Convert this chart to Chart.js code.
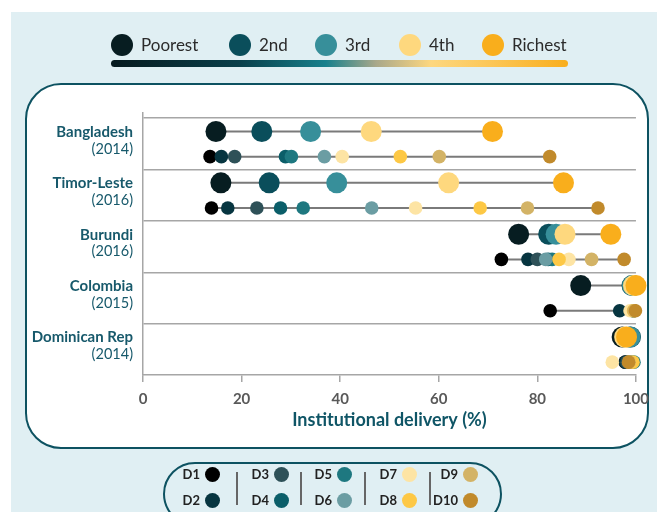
<!DOCTYPE html>
<html>
<head>
<meta charset="utf-8">
<script src="https://cdn.jsdelivr.net/npm/chart.js@4.4.1/dist/chart.umd.min.js"></script>
<style>
  html, body { margin: 0; padding: 0; background: #fff; }
  #wrap { position: relative; width: 657px; height: 512px; overflow: hidden; font-family: Lato, 'Open Sans', sans-serif; }
  #bg { position: absolute; left: 11px; top: 12px; right: 0; bottom: 0; background: #e0eff3; }
  #panel { position: absolute; left: 25px; top: 83px; width: 624px; height: 366px; box-sizing: border-box;
           background: #fff; border: 2.5px solid #0d5261; border-radius: 36px; }
  #chart { position: absolute; left: 0; top: 0; }
  .dot { position: absolute; border-radius: 50%; }
  .qtext { position: absolute; font-size: 17px; color: #2b2b2b; line-height: 20px; }
  #gradbar { position: absolute; left: 111px; top: 60px; width: 457px; height: 7px; border-radius: 4px;
             background: linear-gradient(to right, #061a1e 0%, #0a3f4a 28%, #17808c 47%, #a9a88a 58%, #fdd77f 70%, #fcc85a 82%, #f9ae1d 100%); }
  #pill { position: absolute; left: 163px; top: 462px; width: 339px; height: 64px; box-sizing: border-box;
          border: 2.5px solid #0d5261; border-radius: 32px; }
  .dtext { position: absolute; font-size: 13px; font-weight: bold; color: #222; line-height: 16px; text-align: right; width: 30px; }
  .sep { position: absolute; width: 1.5px; background: #666; }
</style>
</head>
<body>
<div id="wrap">
  <div id="bg"></div>
  <div id="panel"></div>
  <div id="gradbar"></div>
  <div id="pill"></div>
  <canvas id="chart" width="657" height="512"></canvas>
</div>
<script>
const countries = ['Bangladesh', 'Timor-Leste', 'Burundi', 'Colombia', 'Dominican Rep'];
const surveyYears = ['(2014)', '(2016)', '(2016)', '(2015)', '(2014)'];

const quintileNames = ['Poorest', '2nd', '3rd', '4th', 'Richest'];
const quintileColors = ['#071d21', '#0a4e5b', '#378f9a', '#fed87e', '#f9ae1c'];
// one row per country, one column per quintile
const quintileValues = [
    [14.8, 24.1, 34.0, 46.3, 70.9],
    [15.8, 25.6, 39.3, 62.0, 85.3],
    [76.2, 82.3, 83.8, 85.6, 94.9],
    [88.8, 99.2, 99.3, 99.5, 100],
    [97.2, 98.9, 98.8, 97.7, 98.1]
];

const decileNames = ['D1', 'D2', 'D3', 'D4', 'D5', 'D6', 'D7', 'D8', 'D9', 'D10'];
const decileColors = ['#000000', '#073540', '#2e5158', '#0b5e69', '#1e7880', '#6b9da3', '#fde4a4', '#fdc845', '#d3b366', '#c18a2b'];
// one row per country, one column per decile
const decileValues = [
    [13.6, 15.9, 18.6, 28.9, 30.1, 36.8, 40.4, 52.2, 60.1, 82.5],
    [13.9, 17.2, 23.1, 27.9, 32.5, 46.4, 55.3, 68.4, 78.0, 92.3],
    [72.7, 78.1, 80.0, 82.2, 83.0, 81.7, 86.4, 84.4, 91.0, 97.6],
    [82.6, 96.7, 99.4, 99.5, 99.6, 99.4, 98.8, 99.5, 99.6, 99.9],
    [97.8, 97.9, 98.2, 99.0, 99.6, 98.8, 95.2, 99.4, 98.6, 98.5]
];

const xTicks = [0, 20, 40, 60, 80, 100];

// y offsets of the two rows inside each country band
const quintileRow = 0.26;
const decileRow = 0.75;

const wrap = document.getElementById('wrap');

// top legend (quintiles)
const qDotX = [122, 240, 326, 410, 493];
quintileNames.forEach((name, k) => {
    const dot = document.createElement('div');
    dot.className = 'dot';
    dot.style.cssText = `left:${qDotX[k] - 11}px;top:34px;width:22px;height:22px;background:${quintileColors[k]}`;
    wrap.appendChild(dot);
    const t = document.createElement('div');
    t.className = 'qtext';
    t.textContent = name;
    t.style.left = (qDotX[k] + 19) + 'px';
    t.style.top = '35px';
    wrap.appendChild(t);
});

// bottom legend (deciles)
const dColX = [212, 281, 344, 409, 470];
const dRowY = [474, 500];
decileNames.forEach((name, k) => {
    const cx = dColX[Math.floor(k / 2)], cy = dRowY[k % 2];
    const dot = document.createElement('div');
    dot.className = 'dot';
    dot.style.cssText = `left:${cx - 7.5}px;top:${cy - 7.5}px;width:15px;height:15px;background:${decileColors[k]}`;
    wrap.appendChild(dot);
    const t = document.createElement('div');
    t.className = 'dtext';
    t.textContent = name;
    t.style.left = (cx - 42) + 'px';
    t.style.top = (cy - 8) + 'px';
    wrap.appendChild(t);
});
[236, 300, 364, 429].forEach(x => {
    const s = document.createElement('div');
    s.className = 'sep';
    s.style.cssText = `left:${x}px;top:472px;height:33px`;
    wrap.appendChild(s);
});

// datasets: connector lines first, then dots
const datasets = [];
countries.forEach((c, i) => {
    [[quintileValues[i], quintileRow], [decileValues[i], decileRow]].forEach(([vals, off]) => {
        datasets.push({
            data: [{ x: Math.min(...vals), y: i + off }, { x: Math.max(...vals), y: i + off }],
            showLine: true,
            borderColor: '#7a7a7a',
            borderWidth: 2,
            pointRadius: 0,
            order: 1000,
            clip: false
        });
    });
});
quintileNames.forEach((name, k) => {
    datasets.push({
        label: name,
        data: countries.map((c, i) => ({ x: quintileValues[i][k], y: i + quintileRow })),
        backgroundColor: quintileColors[k],
        borderWidth: 0,
        pointRadius: 10.5,
        order: 500 - k,
        clip: false
    });
});
decileNames.forEach((name, k) => {
    datasets.push({
        label: name,
        data: countries.map((c, i) => ({ x: decileValues[i][k], y: i + decileRow })),
        backgroundColor: decileColors[k],
        borderWidth: 0,
        pointRadius: 6.8,
        order: 400 - k,
        clip: false
    });
});

const rowLabels = {
    id: 'rowLabels',
    afterDraw(chart) {
        const { ctx, chartArea, scales: { y } } = chart;
        ctx.save();
        ctx.textAlign = 'right';
        ctx.textBaseline = 'middle';
        ctx.fillStyle = '#17596b';
        countries.forEach((name, i) => {
            ctx.font = 'bold 15px Lato';
            ctx.fillText(name, chartArea.left - 10, y.getPixelForValue(i + 0.27));
            ctx.font = '14.5px Lato';
            ctx.fillText(surveyYears[i], chartArea.left - 10, y.getPixelForValue(i + 0.6));
        });
        ctx.textAlign = 'center';
        ctx.font = 'bold 18px Lato';
        ctx.fillStyle = '#0f5566';
        ctx.fillText('Institutional delivery (%)', (chartArea.left + chartArea.right) / 2, chartArea.bottom + 45);
        ctx.restore();
    }
};

new Chart(document.getElementById('chart'), {
    type: 'scatter',
    data: { datasets },
    options: {
        responsive: false,
        animation: false,
        layout: { padding: { left: 0, top: 113, right: 20, bottom: 0 } },
        plugins: { legend: { display: false }, tooltip: { enabled: false } },
        scales: {
            x: {
                type: 'linear',
                min: 0,
                max: 100,
                afterBuildTicks: s => { s.ticks = xTicks.map(v => ({ value: v })); },
                afterFit: s => { s.height = 137; },
                ticks: { font: { family: 'Lato', weight: 'bold', size: 15 }, color: '#595959', padding: 8 },
                grid: { drawOnChartArea: false, drawTicks: true, tickLength: 7, color: '#a6a6a6', lineWidth: 1.5 },
                border: { color: '#a6a6a6', width: 1.5 }
            },
            y: {
                type: 'linear',
                reverse: true,
                min: -0.1,
                max: 5,
                afterBuildTicks: s => { s.ticks = [0, 1, 2, 3, 4].map(v => ({ value: v })); },
                afterFit: s => { s.width = 143; },
                ticks: { display: false },
                grid: { color: '#a6a6a6', lineWidth: 1.5, drawTicks: false },
                border: { color: '#a6a6a6', width: 1.5 }
            }
        }
    },
    plugins: [rowLabels]
});
</script>
</body>
</html>
